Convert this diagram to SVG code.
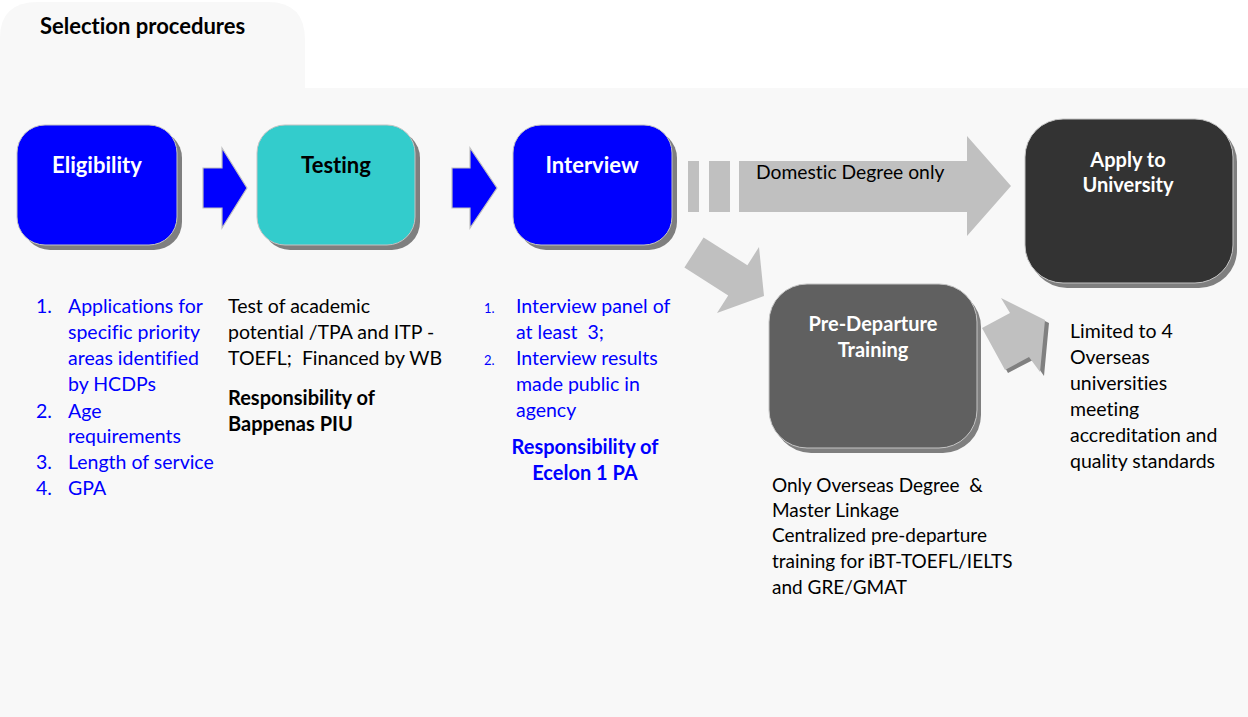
<svg xmlns="http://www.w3.org/2000/svg" width="1248" height="717" viewBox="0 0 1248 717">
<style>
text{font-variant-ligatures:none}
.node{stroke:#c4c4c4;stroke-width:1}
.shadow{fill:#7f7f7f}
.t{font-family:Lato,"Open Sans",sans-serif;font-size:19.5px}
.tb{font-family:Lato,"Open Sans",sans-serif;font-size:20px;font-weight:bold}
.ttl{font-family:Lato,"Open Sans",sans-serif;font-weight:bold;font-size:22px;text-anchor:middle}
.ttl2{font-size:20px}
.blue{fill:#0000ff}
.blk{fill:#000000}
.wht{fill:#ffffff}
.num{font-size:13px}
.garrow{fill:#c0c0c0}
.barrow{fill:#0000ff;stroke:#c0c0c0;stroke-width:1.2}
</style>
<rect width="1248" height="717" fill="#ffffff"/>
<g id="panel">
<path d="M0,88 L0,38 Q0,2 38,2 L268,2 Q305,2 305,40 L305,88 Z" fill="#f8f8f8"/>
<rect x="0" y="88" width="1248" height="629" fill="#f8f8f8"/>
<text x="40" y="34" class="tb blk" style="font-size:22px">Selection procedures</text>
</g>
<g id="connectors">
<polygon class="barrow" points="203,168 222,168 222,148 247,188 222,228 222,208 203,208"/>
<polygon class="barrow" points="452,168 470,168 470,148 497,188 470,228 470,208 452,208"/>
<rect class="garrow" x="688" y="161" width="11" height="51"/>
<rect class="garrow" x="709" y="161" width="21" height="51"/>
<polygon class="garrow" points="739,161 967,161 967,136 1011,186 967,236 967,212 739,212"/>
<polygon class="garrow" points="703.6,237.4 747.4,265.3 759,247 764,296 717,313 728.2,295.5 684.4,267.6"/>
<polygon fill="#808080" points="985,331 1013,316 1004,301 1049,323 1044,376 1033,360 1008,373"/>
<polygon class="garrow" points="982,328 1010,313 1001,298 1045,320 1040,372 1029,357 1005,370"/>
<text x="756" y="179" class="t blk" style="font-size:19.3px">Domestic Degree only</text>
</g>
<g id="eligibility">
<rect class="shadow" x="22" y="130" width="160" height="120" rx="28"/>
<rect class="node" x="17" y="125" width="160" height="120" rx="28" fill="#0000ff"/>
<text x="97" y="173" class="ttl wht">Eligibility</text>
</g>
<g id="testing">
<rect class="shadow" x="262" y="130" width="158" height="120" rx="28"/>
<rect class="node" x="257" y="125" width="158" height="120" rx="28" fill="#33cccc"/>
<text x="336" y="173" class="ttl blk">Testing</text>
</g>
<g id="interview">
<rect class="shadow" x="518" y="130" width="159" height="120" rx="28"/>
<rect class="node" x="513" y="125" width="159" height="120" rx="28" fill="#0000ff"/>
<text x="592" y="173" class="ttl wht">Interview</text>
</g>
<g id="apply">
<rect class="shadow" x="1029" y="124" width="208" height="164" rx="38"/>
<rect class="node" x="1025" y="119" width="208" height="164" rx="38" fill="#333333"/>
<text x="1128" y="167" class="ttl ttl2 wht">Apply to</text>
<text x="1128" y="192" class="ttl ttl2 wht">University</text>
</g>
<g id="predeparture">
<rect class="shadow" x="773" y="289" width="208" height="164" rx="38"/>
<rect class="node" x="769" y="284" width="208" height="164" rx="38" fill="#606060"/>
<text x="873" y="331" class="ttl ttl2 wht">Pre-Departure</text>
<text x="873" y="357" class="ttl ttl2 wht">Training</text>
</g>
<g id="eligibility-notes" class="t blue">
<text x="36" y="313">1.</text><text x="68" y="313">Applications for</text>
<text x="68" y="339">specific priority</text>
<text x="68" y="365">areas identified</text>
<text x="68" y="391">by HCDPs</text>
<text x="36" y="418">2.</text><text x="68" y="418">Age</text>
<text x="68" y="443">requirements</text>
<text x="36" y="469">3.</text><text x="68" y="469">Length of service</text>
<text x="36" y="495">4.</text><text x="68" y="495">GPA</text>
</g>
<g id="testing-notes">
<text x="228" y="313" class="t blk">Test of academic</text>
<text x="228" y="339" class="t blk">potential /TPA and ITP -</text>
<text x="228" y="365" class="t blk" xml:space="preserve">TOEFL;  Financed by WB</text>
<text x="228" y="405" class="tb blk">Responsibility of</text>
<text x="228" y="431" class="tb blk">Bappenas PIU</text>
</g>
<g id="interview-notes">
<text x="484" y="313" class="t blue num">1.</text><text x="516" y="313" class="t blue">Interview panel of</text>
<text x="516" y="339" class="t blue" xml:space="preserve">at least  3;</text>
<text x="484" y="365" class="t blue num">2.</text><text x="516" y="365" class="t blue">Interview results</text>
<text x="516" y="391" class="t blue">made public in</text>
<text x="516" y="417" class="t blue">agency</text>
<text x="585" y="454" class="tb blue" style="text-anchor:middle">Responsibility of</text>
<text x="585" y="480" class="tb blue" style="text-anchor:middle">Ecelon 1 PA</text>
</g>
<g id="predeparture-notes" class="t blk" style="font-size:19px">
<text x="772" y="492" xml:space="preserve">Only Overseas Degree  &amp;</text>
<text x="772" y="517">Master Linkage</text>
<text x="772" y="542">Centralized pre-departure</text>
<text x="772" y="568">training for iBT-TOEFL/IELTS</text>
<text x="772" y="594">and GRE/GMAT</text>
</g>
<g id="apply-notes" class="t blk">
<text x="1070" y="338">Limited to 4</text>
<text x="1070" y="364">Overseas</text>
<text x="1070" y="390">universities</text>
<text x="1070" y="416">meeting</text>
<text x="1070" y="442">accreditation and</text>
<text x="1070" y="468">quality standards</text>
</g>
</svg>
